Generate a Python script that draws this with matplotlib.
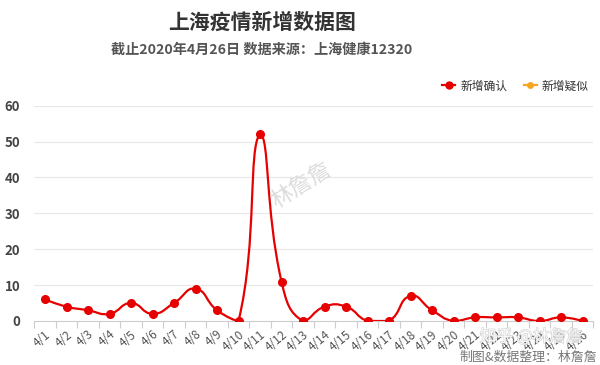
import numpy as np
import matplotlib
matplotlib.use("Agg")
import matplotlib.pyplot as plt
import matplotlib.patheffects as pe
from matplotlib.path import Path
from matplotlib.patches import PathPatch
from matplotlib.lines import Line2D

plt.rcParams['font.family'] = ['Noto Sans CJK SC', 'DejaVu Sans']

dates = ["4/%d" % d for d in range(1, 27)]
confirmed = [6, 4, 3, 2, 5, 2, 5, 9, 3, 0, 52, 11, 0, 4, 4, 0, 0, 7, 3, 0, 1, 1, 1, 0, 1, 0]
title = "上海疫情新增数据图"
subtitle = "截止2020年4月26日 数据来源：上海健康12320"
legend_labels = ["新增确认", "新增疑似"]
yticks = [0, 10, 20, 30, 40, 50, 60]

RED = "#e60000"
ORANGE = "#f5a623"

fig = plt.figure(figsize=(6, 3.65), dpi=100)
ax = fig.add_axes([34.25 / 600, 1 - 321 / 365, 559 / 600, (321 - 105.7) / 365])
n = len(dates)
ax.set_xlim(0, n)
ax.set_ylim(0, 60)

# ECharts-4 style smooth bezier computed in pixel space
xs = np.arange(n) + 0.5
pts = ax.transData.transform(np.column_stack([xs, confirmed]))
pmin = pts.min(axis=0)
pmax = pts.max(axis=0)
smooth = 0.5
verts = [pts[0]]
codes = [Path.MOVETO]
for i in range(1, n):
    p0 = pts[i - 1]
    p1 = pts[i]
    if i - 1 == 0:
        c0 = p0.copy()
    else:
        prev = pts[i - 2]
        v = p1 - prev
        lp = np.linalg.norm(p0 - prev)
        ln = np.linalg.norm(p0 - p1)
        r = ln / (ln + lp)
        c0 = p0 + v * smooth * r
    if i == n - 1:
        c1 = p1.copy()
    else:
        nxt = pts[i + 1]
        v = nxt - p0
        lp = np.linalg.norm(p1 - p0)
        ln = np.linalg.norm(p1 - nxt)
        r = ln / (ln + lp)
        c1 = p1 - v * smooth * (1 - r)
    c0 = np.clip(c0, pmin, pmax)
    c1 = np.clip(c1, pmin, pmax)
    verts += [c0, c1, p1]
    codes += [Path.CURVE4] * 3
verts = ax.transData.inverted().transform(np.array(verts))
path = Path(verts, codes)
ax.add_patch(PathPatch(path, facecolor='none', edgecolor=RED, lw=1.6, zorder=3))
ax.plot(xs, confirmed, 'o', color=RED, ms=5.5, zorder=4)

# grid & axes
for y in yticks[1:]:
    ax.axhline(y, color='#e8e8e8', lw=0.9, zorder=0)
for s in ['top', 'right', 'left']:
    ax.spines[s].set_visible(False)
ax.spines['bottom'].set_color('#cccccc')
ax.set_yticks(yticks)
ax.set_yticklabels([str(v) for v in yticks], color='#444444', fontsize=9.5, fontweight='bold')
ax.tick_params(axis='y', length=0, pad=10)
ax.set_xticks(np.arange(n + 1))
ax.set_xticklabels([])
ax.set_xticks(xs, minor=True)
ax.set_xticklabels(dates, minor=True, rotation=40, ha='right', va='top',
                   rotation_mode='anchor', color='#555555', fontsize=8.5)
ax.tick_params(axis='x', which='major', length=5, color='#cccccc')
ax.tick_params(axis='x', which='minor', length=0, pad=5)

# titles
fig.text(262 / 600, 1 - 22 / 365, title, ha='center', va='center', fontsize=15,
         fontweight='bold', color='#333333')
fig.text(262 / 600, 1 - 50 / 365, subtitle, ha='center', va='center', fontsize=10.2,
         fontweight='bold', color='#555555')

# legend
handles = [Line2D([0], [0], color=RED, marker='o', ms=5, lw=1.6),
           Line2D([0], [0], color=ORANGE, marker='o', ms=4, lw=1.6)]
fig.legend(handles, legend_labels, loc='center right', bbox_to_anchor=(599 / 600, 1 - 86 / 365),
           ncol=2, frameon=False, fontsize=8.5, handlelength=1.1, handletextpad=0.4,
           columnspacing=1.4, labelcolor='#333333')

# watermarks
fig.text(301 / 600, 1 - 185 / 365, "林詹詹", ha='center', va='center', fontsize=16,
         rotation=32, color='#dcdcdc')
fig.text(531 / 600, 1 - 337 / 365, "知乎 @林詹詹", ha='center', va='center', fontsize=12,
         color='white', alpha=0.85, zorder=10,
         path_effects=[pe.withStroke(linewidth=0.8, foreground='#c8c8c8')])
fig.text(597 / 600, 1 - 357 / 365, "制图&数据整理：林詹詹", ha='right', va='center',
         fontsize=9.3, color='#777777')

fig.savefig("out.png", dpi=100, facecolor='white')
